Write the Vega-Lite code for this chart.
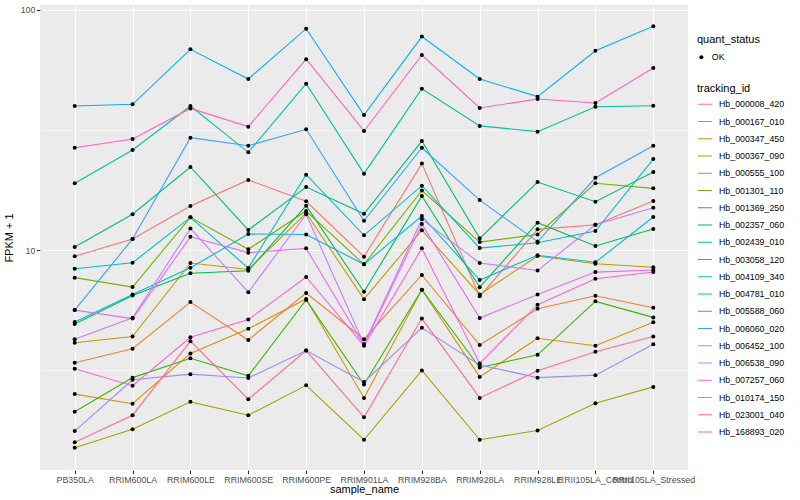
{
"$schema": "https://vega.github.io/schema/vega-lite/v6.json",
"autosize": "none",
"width": 648, "height": 465,
"padding": {"left": 40, "top": 5, "right": 112, "bottom": 30},
"background": "white",
"config": {
 "font": "Liberation Sans",
 "view": {"fill": "#EBEBEB", "stroke": null},
 "axis": {"gridColor": "white", "gridWidth": 1.07, "domain": false, "tickColor": "#333333", "tickSize": 3.6, "tickWidth": 1.07, "labelColor": "#4D4D4D", "labelFontSize": 8.8, "titleFontSize": 11, "titleFontWeight": "normal", "titleColor": "black"},
 "legend": {"titleFontSize": 11, "titleFontWeight": "normal", "titleColor": "black", "labelFontSize": 8.8, "labelColor": "black"}
},
"datasets": {"expr": [
{"tracking_id":"Hb_000008_420","quant_status":"OK","sample_name":"PB350LA","fpkm":9.42},
{"tracking_id":"Hb_000008_420","quant_status":"OK","sample_name":"RRIM600LA","fpkm":11.12},
{"tracking_id":"Hb_000008_420","quant_status":"OK","sample_name":"RRIM600LE","fpkm":15.24},
{"tracking_id":"Hb_000008_420","quant_status":"OK","sample_name":"RRIM600SE","fpkm":19.59},
{"tracking_id":"Hb_000008_420","quant_status":"OK","sample_name":"RRIM600PE","fpkm":15.96},
{"tracking_id":"Hb_000008_420","quant_status":"OK","sample_name":"RRIM901LA","fpkm":9.38},
{"tracking_id":"Hb_000008_420","quant_status":"OK","sample_name":"RRIM928BA","fpkm":22.91},
{"tracking_id":"Hb_000008_420","quant_status":"OK","sample_name":"RRIM928LA","fpkm":6.41},
{"tracking_id":"Hb_000008_420","quant_status":"OK","sample_name":"RRIM928LE","fpkm":12.19},
{"tracking_id":"Hb_000008_420","quant_status":"OK","sample_name":"RRII105LA_Control","fpkm":12.74},
{"tracking_id":"Hb_000008_420","quant_status":"OK","sample_name":"RRII105LA_Stressed","fpkm":16.0},
{"tracking_id":"Hb_000167_010","quant_status":"OK","sample_name":"PB350LA","fpkm":3.39},
{"tracking_id":"Hb_000167_010","quant_status":"OK","sample_name":"RRIM600LA","fpkm":3.88},
{"tracking_id":"Hb_000167_010","quant_status":"OK","sample_name":"RRIM600LE","fpkm":6.07},
{"tracking_id":"Hb_000167_010","quant_status":"OK","sample_name":"RRIM600SE","fpkm":4.22},
{"tracking_id":"Hb_000167_010","quant_status":"OK","sample_name":"RRIM600PE","fpkm":6.62},
{"tracking_id":"Hb_000167_010","quant_status":"OK","sample_name":"RRIM901LA","fpkm":4.25},
{"tracking_id":"Hb_000167_010","quant_status":"OK","sample_name":"RRIM928BA","fpkm":7.87},
{"tracking_id":"Hb_000167_010","quant_status":"OK","sample_name":"RRIM928LA","fpkm":4.02},
{"tracking_id":"Hb_000167_010","quant_status":"OK","sample_name":"RRIM928LE","fpkm":5.69},
{"tracking_id":"Hb_000167_010","quant_status":"OK","sample_name":"RRII105LA_Control","fpkm":6.45},
{"tracking_id":"Hb_000167_010","quant_status":"OK","sample_name":"RRII105LA_Stressed","fpkm":5.75},
{"tracking_id":"Hb_000347_450","quant_status":"OK","sample_name":"PB350LA","fpkm":2.51},
{"tracking_id":"Hb_000347_450","quant_status":"OK","sample_name":"RRIM600LA","fpkm":2.29},
{"tracking_id":"Hb_000347_450","quant_status":"OK","sample_name":"RRIM600LE","fpkm":3.71},
{"tracking_id":"Hb_000347_450","quant_status":"OK","sample_name":"RRIM600SE","fpkm":4.70},
{"tracking_id":"Hb_000347_450","quant_status":"OK","sample_name":"RRIM600PE","fpkm":6.25},
{"tracking_id":"Hb_000347_450","quant_status":"OK","sample_name":"RRIM901LA","fpkm":2.42},
{"tracking_id":"Hb_000347_450","quant_status":"OK","sample_name":"RRIM928BA","fpkm":6.83},
{"tracking_id":"Hb_000347_450","quant_status":"OK","sample_name":"RRIM928LA","fpkm":2.96},
{"tracking_id":"Hb_000347_450","quant_status":"OK","sample_name":"RRIM928LE","fpkm":4.29},
{"tracking_id":"Hb_000347_450","quant_status":"OK","sample_name":"RRII105LA_Control","fpkm":3.99},
{"tracking_id":"Hb_000347_450","quant_status":"OK","sample_name":"RRII105LA_Stressed","fpkm":5.00},
{"tracking_id":"Hb_000367_090","quant_status":"OK","sample_name":"PB350LA","fpkm":4.11},
{"tracking_id":"Hb_000367_090","quant_status":"OK","sample_name":"RRIM600LA","fpkm":4.36},
{"tracking_id":"Hb_000367_090","quant_status":"OK","sample_name":"RRIM600LE","fpkm":8.83},
{"tracking_id":"Hb_000367_090","quant_status":"OK","sample_name":"RRIM600SE","fpkm":8.30},
{"tracking_id":"Hb_000367_090","quant_status":"OK","sample_name":"RRIM600PE","fpkm":14.26},
{"tracking_id":"Hb_000367_090","quant_status":"OK","sample_name":"RRIM901LA","fpkm":6.24},
{"tracking_id":"Hb_000367_090","quant_status":"OK","sample_name":"RRIM928BA","fpkm":12.1},
{"tracking_id":"Hb_000367_090","quant_status":"OK","sample_name":"RRIM928LA","fpkm":6.53},
{"tracking_id":"Hb_000367_090","quant_status":"OK","sample_name":"RRIM928LE","fpkm":9.44},
{"tracking_id":"Hb_000367_090","quant_status":"OK","sample_name":"RRII105LA_Control","fpkm":8.77},
{"tracking_id":"Hb_000367_090","quant_status":"OK","sample_name":"RRII105LA_Stressed","fpkm":8.47},
{"tracking_id":"Hb_000555_100","quant_status":"OK","sample_name":"PB350LA","fpkm":1.50},
{"tracking_id":"Hb_000555_100","quant_status":"OK","sample_name":"RRIM600LA","fpkm":1.79},
{"tracking_id":"Hb_000555_100","quant_status":"OK","sample_name":"RRIM600LE","fpkm":2.33},
{"tracking_id":"Hb_000555_100","quant_status":"OK","sample_name":"RRIM600SE","fpkm":2.05},
{"tracking_id":"Hb_000555_100","quant_status":"OK","sample_name":"RRIM600PE","fpkm":2.73},
{"tracking_id":"Hb_000555_100","quant_status":"OK","sample_name":"RRIM901LA","fpkm":1.62},
{"tracking_id":"Hb_000555_100","quant_status":"OK","sample_name":"RRIM928BA","fpkm":3.15},
{"tracking_id":"Hb_000555_100","quant_status":"OK","sample_name":"RRIM928LA","fpkm":1.62},
{"tracking_id":"Hb_000555_100","quant_status":"OK","sample_name":"RRIM928LE","fpkm":1.77},
{"tracking_id":"Hb_000555_100","quant_status":"OK","sample_name":"RRII105LA_Control","fpkm":2.30},
{"tracking_id":"Hb_000555_100","quant_status":"OK","sample_name":"RRII105LA_Stressed","fpkm":2.69},
{"tracking_id":"Hb_001301_110","quant_status":"OK","sample_name":"PB350LA","fpkm":7.67},
{"tracking_id":"Hb_001301_110","quant_status":"OK","sample_name":"RRIM600LA","fpkm":7.01},
{"tracking_id":"Hb_001301_110","quant_status":"OK","sample_name":"RRIM600LE","fpkm":13.68},
{"tracking_id":"Hb_001301_110","quant_status":"OK","sample_name":"RRIM600SE","fpkm":10.07},
{"tracking_id":"Hb_001301_110","quant_status":"OK","sample_name":"RRIM600PE","fpkm":14.54},
{"tracking_id":"Hb_001301_110","quant_status":"OK","sample_name":"RRIM901LA","fpkm":8.72},
{"tracking_id":"Hb_001301_110","quant_status":"OK","sample_name":"RRIM928BA","fpkm":17.7},
{"tracking_id":"Hb_001301_110","quant_status":"OK","sample_name":"RRIM928LA","fpkm":10.79},
{"tracking_id":"Hb_001301_110","quant_status":"OK","sample_name":"RRIM928LE","fpkm":11.61},
{"tracking_id":"Hb_001301_110","quant_status":"OK","sample_name":"RRII105LA_Control","fpkm":18.97},
{"tracking_id":"Hb_001301_110","quant_status":"OK","sample_name":"RRII105LA_Stressed","fpkm":18.07},
{"tracking_id":"Hb_001369_250","quant_status":"OK","sample_name":"PB350LA","fpkm":2.12},
{"tracking_id":"Hb_001369_250","quant_status":"OK","sample_name":"RRIM600LA","fpkm":2.94},
{"tracking_id":"Hb_001369_250","quant_status":"OK","sample_name":"RRIM600LE","fpkm":3.54},
{"tracking_id":"Hb_001369_250","quant_status":"OK","sample_name":"RRIM600SE","fpkm":2.99},
{"tracking_id":"Hb_001369_250","quant_status":"OK","sample_name":"RRIM600PE","fpkm":6.19},
{"tracking_id":"Hb_001369_250","quant_status":"OK","sample_name":"RRIM901LA","fpkm":2.75},
{"tracking_id":"Hb_001369_250","quant_status":"OK","sample_name":"RRIM928BA","fpkm":6.83},
{"tracking_id":"Hb_001369_250","quant_status":"OK","sample_name":"RRIM928LA","fpkm":3.24},
{"tracking_id":"Hb_001369_250","quant_status":"OK","sample_name":"RRIM928LE","fpkm":3.66},
{"tracking_id":"Hb_001369_250","quant_status":"OK","sample_name":"RRII105LA_Control","fpkm":6.11},
{"tracking_id":"Hb_001369_250","quant_status":"OK","sample_name":"RRII105LA_Stressed","fpkm":5.24},
{"tracking_id":"Hb_002357_060","quant_status":"OK","sample_name":"PB350LA","fpkm":4.92},
{"tracking_id":"Hb_002357_060","quant_status":"OK","sample_name":"RRIM600LA","fpkm":6.47},
{"tracking_id":"Hb_002357_060","quant_status":"OK","sample_name":"RRIM600LE","fpkm":8.0},
{"tracking_id":"Hb_002357_060","quant_status":"OK","sample_name":"RRIM600SE","fpkm":8.2},
{"tracking_id":"Hb_002357_060","quant_status":"OK","sample_name":"RRIM600PE","fpkm":15.3},
{"tracking_id":"Hb_002357_060","quant_status":"OK","sample_name":"RRIM901LA","fpkm":6.7},
{"tracking_id":"Hb_002357_060","quant_status":"OK","sample_name":"RRIM928BA","fpkm":16.79},
{"tracking_id":"Hb_002357_060","quant_status":"OK","sample_name":"RRIM928LA","fpkm":7.0},
{"tracking_id":"Hb_002357_060","quant_status":"OK","sample_name":"RRIM928LE","fpkm":13.0},
{"tracking_id":"Hb_002357_060","quant_status":"OK","sample_name":"RRII105LA_Control","fpkm":10.39},
{"tracking_id":"Hb_002357_060","quant_status":"OK","sample_name":"RRII105LA_Stressed","fpkm":12.23},
{"tracking_id":"Hb_002439_010","quant_status":"OK","sample_name":"PB350LA","fpkm":10.29},
{"tracking_id":"Hb_002439_010","quant_status":"OK","sample_name":"RRIM600LA","fpkm":14.09},
{"tracking_id":"Hb_002439_010","quant_status":"OK","sample_name":"RRIM600LE","fpkm":22.18},
{"tracking_id":"Hb_002439_010","quant_status":"OK","sample_name":"RRIM600SE","fpkm":12.12},
{"tracking_id":"Hb_002439_010","quant_status":"OK","sample_name":"RRIM600PE","fpkm":18.3},
{"tracking_id":"Hb_002439_010","quant_status":"OK","sample_name":"RRIM901LA","fpkm":14.16},
{"tracking_id":"Hb_002439_010","quant_status":"OK","sample_name":"RRIM928BA","fpkm":28.44},
{"tracking_id":"Hb_002439_010","quant_status":"OK","sample_name":"RRIM928LA","fpkm":11.19},
{"tracking_id":"Hb_002439_010","quant_status":"OK","sample_name":"RRIM928LE","fpkm":19.19},
{"tracking_id":"Hb_002439_010","quant_status":"OK","sample_name":"RRII105LA_Control","fpkm":15.89},
{"tracking_id":"Hb_002439_010","quant_status":"OK","sample_name":"RRII105LA_Stressed","fpkm":21.13},
{"tracking_id":"Hb_003058_120","quant_status":"OK","sample_name":"PB350LA","fpkm":18.97},
{"tracking_id":"Hb_003058_120","quant_status":"OK","sample_name":"RRIM600LA","fpkm":26.1},
{"tracking_id":"Hb_003058_120","quant_status":"OK","sample_name":"RRIM600LE","fpkm":39.81},
{"tracking_id":"Hb_003058_120","quant_status":"OK","sample_name":"RRIM600SE","fpkm":25.53},
{"tracking_id":"Hb_003058_120","quant_status":"OK","sample_name":"RRIM600PE","fpkm":49.32},
{"tracking_id":"Hb_003058_120","quant_status":"OK","sample_name":"RRIM901LA","fpkm":20.8},
{"tracking_id":"Hb_003058_120","quant_status":"OK","sample_name":"RRIM928BA","fpkm":46.99},
{"tracking_id":"Hb_003058_120","quant_status":"OK","sample_name":"RRIM928LA","fpkm":32.89},
{"tracking_id":"Hb_003058_120","quant_status":"OK","sample_name":"RRIM928LE","fpkm":31.12},
{"tracking_id":"Hb_003058_120","quant_status":"OK","sample_name":"RRII105LA_Control","fpkm":39.54},
{"tracking_id":"Hb_003058_120","quant_status":"OK","sample_name":"RRII105LA_Stressed","fpkm":39.9},
{"tracking_id":"Hb_004109_340","quant_status":"OK","sample_name":"PB350LA","fpkm":8.36},
{"tracking_id":"Hb_004109_340","quant_status":"OK","sample_name":"RRIM600LA","fpkm":8.85},
{"tracking_id":"Hb_004109_340","quant_status":"OK","sample_name":"RRIM600LE","fpkm":13.68},
{"tracking_id":"Hb_004109_340","quant_status":"OK","sample_name":"RRIM600SE","fpkm":8.41},
{"tracking_id":"Hb_004109_340","quant_status":"OK","sample_name":"RRIM600PE","fpkm":20.61},
{"tracking_id":"Hb_004109_340","quant_status":"OK","sample_name":"RRIM901LA","fpkm":11.51},
{"tracking_id":"Hb_004109_340","quant_status":"OK","sample_name":"RRIM928BA","fpkm":18.54},
{"tracking_id":"Hb_004109_340","quant_status":"OK","sample_name":"RRIM928LA","fpkm":10.19},
{"tracking_id":"Hb_004109_340","quant_status":"OK","sample_name":"RRIM928LE","fpkm":10.72},
{"tracking_id":"Hb_004109_340","quant_status":"OK","sample_name":"RRII105LA_Control","fpkm":11.99},
{"tracking_id":"Hb_004109_340","quant_status":"OK","sample_name":"RRII105LA_Stressed","fpkm":23.93},
{"tracking_id":"Hb_004781_010","quant_status":"OK","sample_name":"PB350LA","fpkm":5.01},
{"tracking_id":"Hb_004781_010","quant_status":"OK","sample_name":"RRIM600LA","fpkm":6.53},
{"tracking_id":"Hb_004781_010","quant_status":"OK","sample_name":"RRIM600LE","fpkm":8.43},
{"tracking_id":"Hb_004781_010","quant_status":"OK","sample_name":"RRIM600SE","fpkm":11.66},
{"tracking_id":"Hb_004781_010","quant_status":"OK","sample_name":"RRIM600PE","fpkm":11.6},
{"tracking_id":"Hb_004781_010","quant_status":"OK","sample_name":"RRIM901LA","fpkm":8.72},
{"tracking_id":"Hb_004781_010","quant_status":"OK","sample_name":"RRIM928BA","fpkm":13.86},
{"tracking_id":"Hb_004781_010","quant_status":"OK","sample_name":"RRIM928LA","fpkm":7.5},
{"tracking_id":"Hb_004781_010","quant_status":"OK","sample_name":"RRIM928LE","fpkm":9.51},
{"tracking_id":"Hb_004781_010","quant_status":"OK","sample_name":"RRII105LA_Control","fpkm":8.89},
{"tracking_id":"Hb_004781_010","quant_status":"OK","sample_name":"RRII105LA_Stressed","fpkm":13.72},
{"tracking_id":"Hb_005588_060","quant_status":"OK","sample_name":"PB350LA","fpkm":39.81},
{"tracking_id":"Hb_005588_060","quant_status":"OK","sample_name":"RRIM600LA","fpkm":40.46},
{"tracking_id":"Hb_005588_060","quant_status":"OK","sample_name":"RRIM600LE","fpkm":68.55},
{"tracking_id":"Hb_005588_060","quant_status":"OK","sample_name":"RRIM600SE","fpkm":51.58},
{"tracking_id":"Hb_005588_060","quant_status":"OK","sample_name":"RRIM600PE","fpkm":83.56},
{"tracking_id":"Hb_005588_060","quant_status":"OK","sample_name":"RRIM901LA","fpkm":36.52},
{"tracking_id":"Hb_005588_060","quant_status":"OK","sample_name":"RRIM928BA","fpkm":77.45},
{"tracking_id":"Hb_005588_060","quant_status":"OK","sample_name":"RRIM928LA","fpkm":51.58},
{"tracking_id":"Hb_005588_060","quant_status":"OK","sample_name":"RRIM928LE","fpkm":43.55},
{"tracking_id":"Hb_005588_060","quant_status":"OK","sample_name":"RRII105LA_Control","fpkm":67.61},
{"tracking_id":"Hb_005588_060","quant_status":"OK","sample_name":"RRII105LA_Stressed","fpkm":85.51},
{"tracking_id":"Hb_006060_020","quant_status":"OK","sample_name":"PB350LA","fpkm":5.62},
{"tracking_id":"Hb_006060_020","quant_status":"OK","sample_name":"RRIM600LA","fpkm":11.12},
{"tracking_id":"Hb_006060_020","quant_status":"OK","sample_name":"RRIM600LE","fpkm":29.38},
{"tracking_id":"Hb_006060_020","quant_status":"OK","sample_name":"RRIM600SE","fpkm":27.2},
{"tracking_id":"Hb_006060_020","quant_status":"OK","sample_name":"RRIM600PE","fpkm":31.84},
{"tracking_id":"Hb_006060_020","quant_status":"OK","sample_name":"RRIM901LA","fpkm":13.24},
{"tracking_id":"Hb_006060_020","quant_status":"OK","sample_name":"RRIM928BA","fpkm":26.67},
{"tracking_id":"Hb_006060_020","quant_status":"OK","sample_name":"RRIM928LA","fpkm":16.14},
{"tracking_id":"Hb_006060_020","quant_status":"OK","sample_name":"RRIM928LE","fpkm":10.84},
{"tracking_id":"Hb_006060_020","quant_status":"OK","sample_name":"RRII105LA_Control","fpkm":20.0},
{"tracking_id":"Hb_006060_020","quant_status":"OK","sample_name":"RRII105LA_Stressed","fpkm":27.2},
{"tracking_id":"Hb_006452_100","quant_status":"OK","sample_name":"PB350LA","fpkm":1.76},
{"tracking_id":"Hb_006452_100","quant_status":"OK","sample_name":"RRIM600LA","fpkm":2.88},
{"tracking_id":"Hb_006452_100","quant_status":"OK","sample_name":"RRIM600LE","fpkm":3.04},
{"tracking_id":"Hb_006452_100","quant_status":"OK","sample_name":"RRIM600SE","fpkm":2.93},
{"tracking_id":"Hb_006452_100","quant_status":"OK","sample_name":"RRIM600PE","fpkm":3.81},
{"tracking_id":"Hb_006452_100","quant_status":"OK","sample_name":"RRIM901LA","fpkm":2.82},
{"tracking_id":"Hb_006452_100","quant_status":"OK","sample_name":"RRIM928BA","fpkm":4.74},
{"tracking_id":"Hb_006452_100","quant_status":"OK","sample_name":"RRIM928LA","fpkm":3.32},
{"tracking_id":"Hb_006452_100","quant_status":"OK","sample_name":"RRIM928LE","fpkm":2.94},
{"tracking_id":"Hb_006452_100","quant_status":"OK","sample_name":"RRII105LA_Control","fpkm":3.01},
{"tracking_id":"Hb_006452_100","quant_status":"OK","sample_name":"RRII105LA_Stressed","fpkm":4.05},
{"tracking_id":"Hb_006538_090","quant_status":"OK","sample_name":"PB350LA","fpkm":4.25},
{"tracking_id":"Hb_006538_090","quant_status":"OK","sample_name":"RRIM600LA","fpkm":5.22},
{"tracking_id":"Hb_006538_090","quant_status":"OK","sample_name":"RRIM600LE","fpkm":12.3},
{"tracking_id":"Hb_006538_090","quant_status":"OK","sample_name":"RRIM600SE","fpkm":6.67},
{"tracking_id":"Hb_006538_090","quant_status":"OK","sample_name":"RRIM600PE","fpkm":14.09},
{"tracking_id":"Hb_006538_090","quant_status":"OK","sample_name":"RRIM901LA","fpkm":4.05},
{"tracking_id":"Hb_006538_090","quant_status":"OK","sample_name":"RRIM928BA","fpkm":13.43},
{"tracking_id":"Hb_006538_090","quant_status":"OK","sample_name":"RRIM928LA","fpkm":8.83},
{"tracking_id":"Hb_006538_090","quant_status":"OK","sample_name":"RRIM928LE","fpkm":8.22},
{"tracking_id":"Hb_006538_090","quant_status":"OK","sample_name":"RRII105LA_Control","fpkm":12.74},
{"tracking_id":"Hb_006538_090","quant_status":"OK","sample_name":"RRII105LA_Stressed","fpkm":15.0},
{"tracking_id":"Hb_007257_060","quant_status":"OK","sample_name":"PB350LA","fpkm":5.62},
{"tracking_id":"Hb_007257_060","quant_status":"OK","sample_name":"RRIM600LA","fpkm":5.18},
{"tracking_id":"Hb_007257_060","quant_status":"OK","sample_name":"RRIM600LE","fpkm":11.35},
{"tracking_id":"Hb_007257_060","quant_status":"OK","sample_name":"RRIM600SE","fpkm":9.75},
{"tracking_id":"Hb_007257_060","quant_status":"OK","sample_name":"RRIM600PE","fpkm":10.16},
{"tracking_id":"Hb_007257_060","quant_status":"OK","sample_name":"RRIM901LA","fpkm":4.02},
{"tracking_id":"Hb_007257_060","quant_status":"OK","sample_name":"RRIM928BA","fpkm":12.82},
{"tracking_id":"Hb_007257_060","quant_status":"OK","sample_name":"RRIM928LA","fpkm":5.21},
{"tracking_id":"Hb_007257_060","quant_status":"OK","sample_name":"RRIM928LE","fpkm":6.53},
{"tracking_id":"Hb_007257_060","quant_status":"OK","sample_name":"RRII105LA_Control","fpkm":8.09},
{"tracking_id":"Hb_007257_060","quant_status":"OK","sample_name":"RRII105LA_Stressed","fpkm":8.25},
{"tracking_id":"Hb_010174_150","quant_status":"OK","sample_name":"PB350LA","fpkm":3.2},
{"tracking_id":"Hb_010174_150","quant_status":"OK","sample_name":"RRIM600LA","fpkm":2.72},
{"tracking_id":"Hb_010174_150","quant_status":"OK","sample_name":"RRIM600LE","fpkm":4.33},
{"tracking_id":"Hb_010174_150","quant_status":"OK","sample_name":"RRIM600SE","fpkm":5.13},
{"tracking_id":"Hb_010174_150","quant_status":"OK","sample_name":"RRIM600PE","fpkm":7.72},
{"tracking_id":"Hb_010174_150","quant_status":"OK","sample_name":"RRIM901LA","fpkm":3.99},
{"tracking_id":"Hb_010174_150","quant_status":"OK","sample_name":"RRIM928BA","fpkm":10.16},
{"tracking_id":"Hb_010174_150","quant_status":"OK","sample_name":"RRIM928LA","fpkm":3.37},
{"tracking_id":"Hb_010174_150","quant_status":"OK","sample_name":"RRIM928LE","fpkm":5.92},
{"tracking_id":"Hb_010174_150","quant_status":"OK","sample_name":"RRII105LA_Control","fpkm":7.59},
{"tracking_id":"Hb_010174_150","quant_status":"OK","sample_name":"RRII105LA_Stressed","fpkm":8.1},
{"tracking_id":"Hb_023001_040","quant_status":"OK","sample_name":"PB350LA","fpkm":26.67},
{"tracking_id":"Hb_023001_040","quant_status":"OK","sample_name":"RRIM600LA","fpkm":29.0},
{"tracking_id":"Hb_023001_040","quant_status":"OK","sample_name":"RRIM600LE","fpkm":38.9},
{"tracking_id":"Hb_023001_040","quant_status":"OK","sample_name":"RRIM600SE","fpkm":32.66},
{"tracking_id":"Hb_023001_040","quant_status":"OK","sample_name":"RRIM600PE","fpkm":62.37},
{"tracking_id":"Hb_023001_040","quant_status":"OK","sample_name":"RRIM901LA","fpkm":31.33},
{"tracking_id":"Hb_023001_040","quant_status":"OK","sample_name":"RRIM928BA","fpkm":64.94},
{"tracking_id":"Hb_023001_040","quant_status":"OK","sample_name":"RRIM928LA","fpkm":39.08},
{"tracking_id":"Hb_023001_040","quant_status":"OK","sample_name":"RRIM928LE","fpkm":42.56},
{"tracking_id":"Hb_023001_040","quant_status":"OK","sample_name":"RRII105LA_Control","fpkm":40.99},
{"tracking_id":"Hb_023001_040","quant_status":"OK","sample_name":"RRII105LA_Stressed","fpkm":57.28},
{"tracking_id":"Hb_168893_020","quant_status":"OK","sample_name":"PB350LA","fpkm":1.58},
{"tracking_id":"Hb_168893_020","quant_status":"OK","sample_name":"RRIM600LA","fpkm":2.05},
{"tracking_id":"Hb_168893_020","quant_status":"OK","sample_name":"RRIM600LE","fpkm":4.17},
{"tracking_id":"Hb_168893_020","quant_status":"OK","sample_name":"RRIM600SE","fpkm":2.39},
{"tracking_id":"Hb_168893_020","quant_status":"OK","sample_name":"RRIM600PE","fpkm":3.81},
{"tracking_id":"Hb_168893_020","quant_status":"OK","sample_name":"RRIM901LA","fpkm":2.01},
{"tracking_id":"Hb_168893_020","quant_status":"OK","sample_name":"RRIM928BA","fpkm":5.18},
{"tracking_id":"Hb_168893_020","quant_status":"OK","sample_name":"RRIM928LA","fpkm":2.42},
{"tracking_id":"Hb_168893_020","quant_status":"OK","sample_name":"RRIM928LE","fpkm":3.14},
{"tracking_id":"Hb_168893_020","quant_status":"OK","sample_name":"RRII105LA_Control","fpkm":3.77},
{"tracking_id":"Hb_168893_020","quant_status":"OK","sample_name":"RRII105LA_Stressed","fpkm":4.36}
]},
"data": {"name": "expr"},
"layer": [
 {
  "mark": {"type": "line", "strokeWidth": 1.1},
  "encoding": {
   "x": {"field": "sample_name", "type": "nominal",
     "sort": ["PB350LA","RRIM600LA","RRIM600LE","RRIM600SE","RRIM600PE","RRIM901LA","RRIM928BA","RRIM928LA","RRIM928LE","RRII105LA_Control","RRII105LA_Stressed"],
     "scale": {"type": "point", "padding": 0.6},
     "axis": {"title": "sample_name", "labelAngle": 0, "labelOverlap": false, "labelPadding": 1.5, "titlePadding": 0, "grid": true}},
   "y": {"field": "fpkm", "type": "quantitative",
     "scale": {"type": "log", "domain": [1.212, 104.9], "nice": false, "zero": false},
     "axis": {"title": "FPKM + 1", "values": [10, 100], "format": "d", "labelPadding": 1.5, "titlePadding": 6, "grid": true}},
   "color": {"field": "tracking_id", "type": "nominal",
     "scale": {"domain": ["Hb_000008_420","Hb_000167_010","Hb_000347_450","Hb_000367_090","Hb_000555_100","Hb_001301_110","Hb_001369_250","Hb_002357_060","Hb_002439_010","Hb_003058_120","Hb_004109_340","Hb_004781_010","Hb_005588_060","Hb_006060_020","Hb_006452_100","Hb_006538_090","Hb_007257_060","Hb_010174_150","Hb_023001_040","Hb_168893_020"],
       "range": ["#F8766D","#EA8331","#D89000","#C09B00","#A3A500","#7CAE00","#39B600","#00BB4E","#00BF7D","#00C1A3","#00BFC4","#00BAE0","#00B0F6","#35A2FF","#9590FF","#C77CFF","#E76BF3","#FA62DB","#FF62BC","#FF6C91"]},
     "legend": {"orient": "none", "legendX": 657, "legendY": 78, "title": "tracking_id", "symbolType": "stroke", "symbolSize": 200, "symbolStrokeWidth": 1.1, "clipHeight": 16.5, "rowPadding": 0.25, "titlePadding": 2, "labelOffset": 6}}
  }
 },
 {
  "mark": {"type": "point", "filled": true, "color": "black", "size": 16, "opacity": 1},
  "encoding": {
   "x": {"field": "sample_name", "type": "nominal",
     "sort": ["PB350LA","RRIM600LA","RRIM600LE","RRIM600SE","RRIM600PE","RRIM901LA","RRIM928BA","RRIM928LA","RRIM928LE","RRII105LA_Control","RRII105LA_Stressed"]},
   "y": {"field": "fpkm", "type": "quantitative",
     "axis": {"orient": "right", "values": [3.1623, 31.623], "labels": false, "ticks": false, "domain": false, "title": null, "grid": true, "gridWidth": 0.55}},
   "shape": {"field": "quant_status", "type": "nominal",
     "scale": {"domain": ["OK"], "range": ["circle"]},
     "legend": {"orient": "none", "legendX": 657, "legendY": 29, "title": "quant_status", "symbolSize": 16, "symbolFillColor": "black", "symbolStrokeColor": "black", "clipHeight": 16.5, "titlePadding": 4, "labelOffset": 6}}
  }
 }
],
"resolve": {"axis": {"y": "independent"}}
}
